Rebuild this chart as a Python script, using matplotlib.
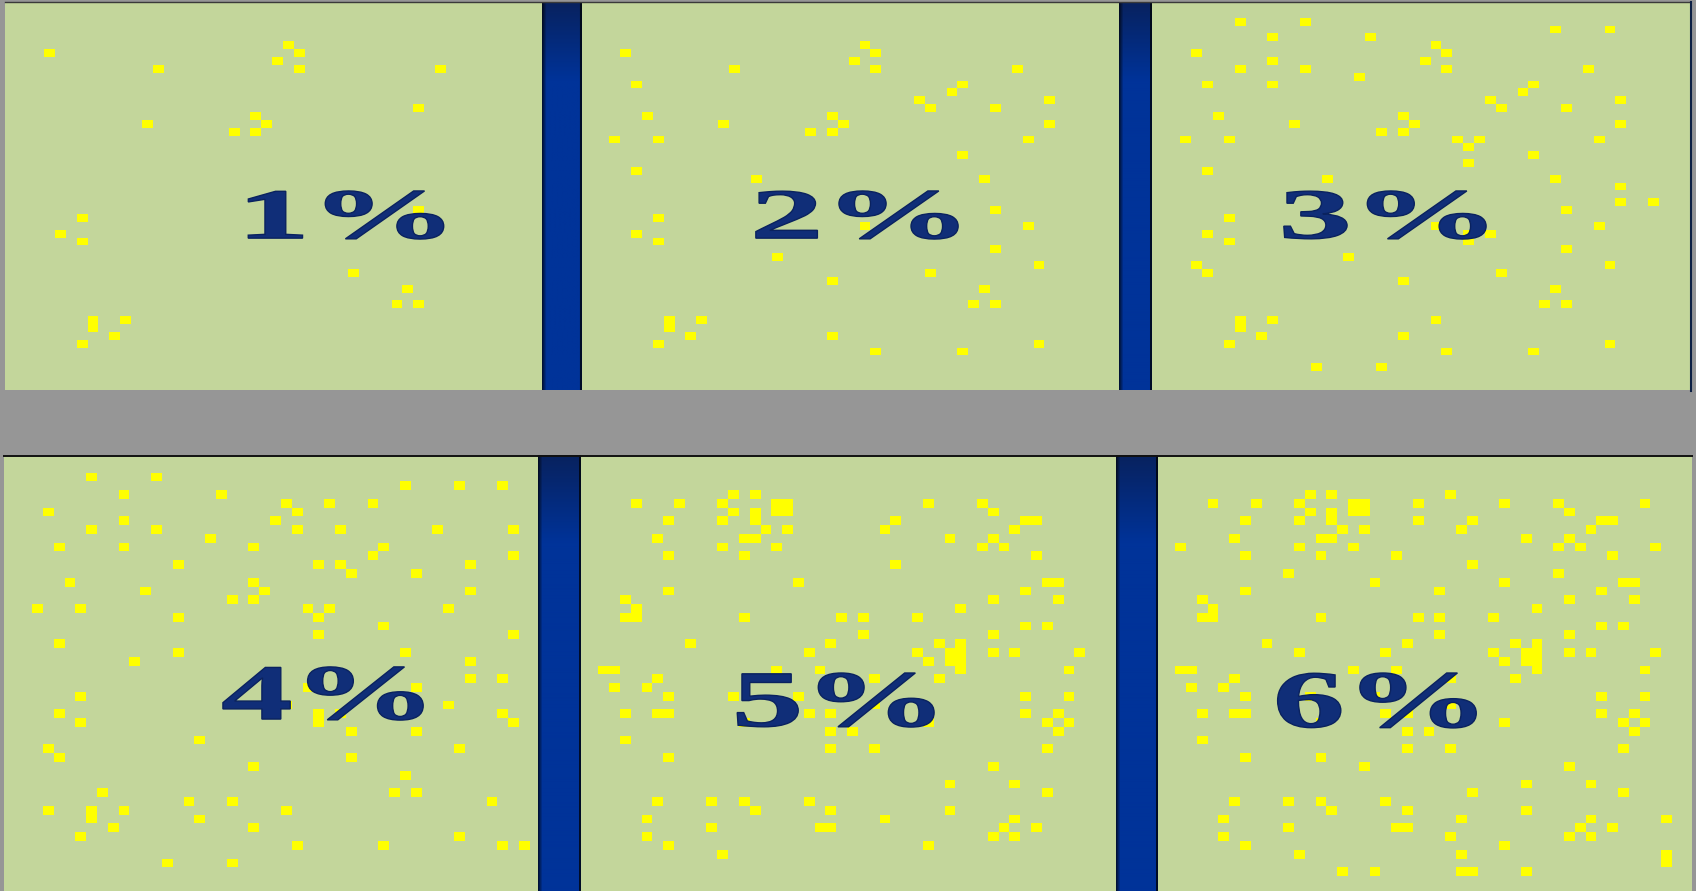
import numpy as np
import matplotlib
matplotlib.use("Agg")
import matplotlib.pyplot as plt
from matplotlib.colors import ListedColormap
from matplotlib.textpath import TextPath
from matplotlib.patches import PathPatch
from matplotlib.font_manager import FontProperties
from matplotlib.transforms import Affine2D

# ---------------- data ----------------
labels = ["1%", "2%", "3%", "4%", "5%", "6%"]
grid_size = 50  # 50 x 50 cells per panel

# yellow cells (col, row) -- panels 1..4 are cumulative
cells_1pct = [(4, 6), (14, 8), (26, 5), (27, 6), (25, 7), (27, 8), (40, 8), (38, 13),
              (13, 15), (23, 14), (24, 15), (21, 16), (23, 16), (7, 27), (5, 29), (7, 30),
              (38, 26), (32, 34), (37, 36), (36, 38), (38, 38), (8, 40), (8, 41), (11, 40),
              (10, 42), (7, 43)]
new_2pct = [(5, 10), (35, 10), (34, 11), (31, 12), (32, 13), (43, 12), (6, 14), (43, 15),
            (3, 17), (7, 17), (41, 17), (35, 19), (5, 21), (16, 22), (37, 22), (26, 28),
            (41, 28), (38, 31), (18, 32), (42, 33), (23, 35), (23, 42), (27, 44), (35, 44),
            (42, 43)]
new_3pct = [(8, 2), (14, 2), (37, 3), (42, 3), (11, 4), (20, 4), (11, 7), (8, 8), (19, 9),
            (11, 10), (28, 17), (30, 17), (29, 18), (29, 20), (43, 23), (43, 25), (46, 25),
            (29, 29), (29, 30), (31, 29), (4, 33), (5, 34), (26, 40), (15, 46), (21, 46)]
new_4pct = [(46, 3), (30, 5), (34, 5), (31, 8), (47, 8), (23, 10), (47, 11), (16, 12),
            (29, 12), (16, 18), (47, 20), (12, 23), (28, 26), (35, 28), (32, 31), (46, 29),
            (47, 30), (9, 38), (17, 39), (21, 39), (45, 39), (4, 40), (18, 41), (46, 44),
            (48, 44)]
# panels 5 and 6 use a second pattern (6 = 5 + new cells)
cells_5pct = [(14, 4), (16, 4),
              (5, 5), (9, 5), (13, 5), (18, 5), (19, 5), (32, 5), (37, 5),
              (14, 6), (16, 6), (18, 6), (19, 6), (38, 6),
              (8, 7), (13, 7), (16, 7), (29, 7), (41, 7), (42, 7),
              (17, 8), (19, 8), (28, 8), (40, 8),
              (7, 9), (15, 9), (16, 9), (34, 9), (38, 9),
              (13, 10), (18, 10), (37, 10), (39, 10),
              (8, 11), (15, 11), (42, 11),
              (29, 12),
              (20, 14), (43, 14), (44, 14),
              (8, 15), (41, 15),
              (4, 16), (38, 16), (44, 16),
              (5, 17), (35, 17),
              (4, 18), (5, 18), (15, 18), (24, 18), (26, 18), (31, 18),
              (41, 19), (43, 19),
              (26, 20), (38, 20),
              (10, 21), (23, 21), (33, 21), (35, 21),
              (21, 22), (31, 22), (34, 22), (35, 22), (38, 22), (40, 22), (46, 22),
              (32, 23), (34, 23), (35, 23),
              (2, 24), (3, 24), (18, 24), (22, 24), (35, 24), (45, 24),
              (7, 25), (27, 25), (33, 25),
              (3, 26), (6, 26),
              (8, 27), (14, 27), (20, 27), (41, 27), (45, 27),
              (27, 28),
              (4, 29), (7, 29), (8, 29), (21, 29), (23, 29), (41, 29), (44, 29),
              (15, 30), (32, 30), (43, 30), (45, 30),
              (23, 31), (25, 31), (44, 31),
              (4, 32),
              (23, 33), (27, 33), (43, 33),
              (8, 34),
              (38, 35),
              (34, 37), (40, 37),
              (43, 38),
              (7, 39), (12, 39), (15, 39), (21, 39),
              (16, 40), (23, 40), (34, 40),
              (6, 41), (28, 41), (40, 41),
              (12, 42), (22, 42), (23, 42), (39, 42), (42, 42),
              (6, 43), (38, 43), (40, 43),
              (8, 44), (32, 44),
              (13, 45)]
new_6pct = [(27, 4), (24, 5), (45, 5), (24, 7), (2, 10), (46, 10), (22, 11), (12, 13),
            (37, 13), (32, 14), (26, 15), (13, 22), (15, 34), (19, 35), (29, 38), (47, 41),
            (27, 43), (28, 45), (47, 45), (47, 46), (17, 47), (20, 47), (28, 47), (29, 47),
            (34, 47)]

panel_cells = [
    cells_1pct,
    cells_1pct + new_2pct,
    cells_1pct + new_2pct + new_3pct,
    cells_1pct + new_2pct + new_3pct + new_4pct,
    cells_5pct,
    cells_5pct + new_6pct,
]

# ---------------- layout (pixels) ----------------
W, H = 1696, 891
GREEN = "#c3d69b"
YELLOW = "#ffff00"
GRAY = "#969696"
TEXT_FACE = "#102e78"
TEXT_EDGE = "#0a225f"

fig = plt.figure(figsize=(W / 100, H / 100), dpi=100, facecolor=GRAY)


def px_axes(x0, y0, x1, y1, z=1):
    ax = fig.add_axes([x0 / W, 1 - y1 / H, (x1 - x0) / W, (y1 - y0) / H], zorder=z)
    ax.set_axis_off()
    return ax


panel_boxes = [(5, 2, 542, 390), (581, 2, 1119, 390), (1152, 2, 1690, 390),
               (4, 455, 538, 891), (581, 455, 1116, 891), (1158, 455, 1692, 891)]
visible_rows = [49.4, 49.4, 49.4, 49.7, 49.7, 49.7]
text_boxes = [(0.453, 0.389, 0.817, 0.513), (0.325, 0.389, 0.701, 0.513),
              (0.245, 0.389, 0.621, 0.513), (0.410, 0.392, 0.785, 0.514),
              (0.292, 0.376, 0.660, 0.500), (0.224, 0.374, 0.596, 0.500)]

cmap = ListedColormap([GREEN, YELLOW])
fp = FontProperties(family="Liberation Serif", weight="bold")

for i, (box, cells) in enumerate(zip(panel_boxes, panel_cells)):
    ax = px_axes(*box)
    grid = np.zeros((grid_size, grid_size))
    for c, r in cells:
        grid[r, c] = 1
    ax.imshow(grid, cmap=cmap, vmin=0, vmax=1, extent=(0, grid_size, grid_size, 0),
              aspect="auto", interpolation="nearest")
    ax.set_xlim(0.4, grid_size - 0.15)
    ax.set_ylim(visible_rows[i], 0)
    # label, stretched to its box
    tp = TextPath((0, 0), labels[i], size=1, prop=fp)
    bb = tp.get_extents()
    tx0, ty0, tx1, ty1 = text_boxes[i]
    tr = (Affine2D().translate(-bb.x0, -bb.y0)
          .scale((tx1 - tx0) / bb.width, (ty1 - ty0) / bb.height)
          .translate(tx0, ty0) + ax.transAxes)
    ax.add_patch(PathPatch(tp, facecolor=TEXT_FACE, edgecolor=TEXT_EDGE, lw=1.0,
                           transform=tr, zorder=5))

# blue separator bars: vertical gradient + darker side edges
bar_boxes = [(542, 2, 581, 390), (1119, 2, 1152, 390),
             (538, 455, 581, 891), (1116, 455, 1158, 891)]
top_col = np.array([8, 34, 95]) / 255
main_col = np.array([0, 51, 153]) / 255
for (x0, y0, x1, y1) in bar_boxes:
    ax = px_axes(x0, y0, x1, y1, z=2)
    nx = x1 - x0
    t = np.linspace(0, 1, 200)
    w = np.clip(t / 0.2, 0, 1)[:, None]
    grad = top_col * (1 - w) + main_col * w          # (200, 3)
    px = np.arange(nx)
    shade = np.ones(nx)
    shade = np.minimum(shade, 0.35 + 0.65 * np.clip(px / 4.0, 0, 1))
    shade[-2:] = 0.25
    img = grad[:, None, :] * shade[None, :, None]
    ax.imshow(np.clip(img, 0, 1), aspect="auto", extent=(0, 1, 1, 0),
              interpolation="bilinear")
    ax.set_xlim(0, 1)
    ax.set_ylim(1, 0)

# thin frame lines
ov = fig.add_axes([0, 0, 1, 1], zorder=3)
ov.set_axis_off()
ov.set_xlim(0, W)
ov.set_ylim(H, 0)
ov.plot([5, 1690], [2, 2], color="#3a3a3a", lw=1.0)
ov.plot([4, 1692], [455.5, 455.5], color="#111111", lw=1.4)
ov.plot([1691, 1691], [2, 391], color="#0c1f44", lw=1.5)

fig.savefig("out.png", dpi=100, facecolor=GRAY)
